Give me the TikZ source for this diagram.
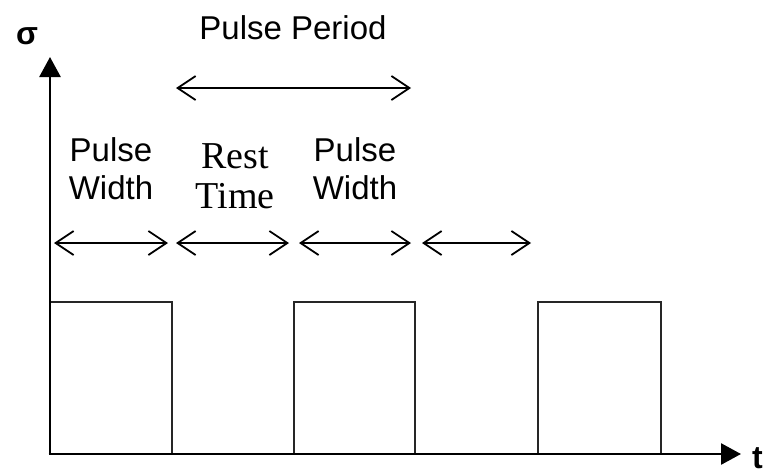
\documentclass[tikz,border=0pt]{standalone}
\usepackage{fontspec}
\setmainfont{Liberation Sans}
\newfontfamily\timesfont{Liberation Serif}
\usetikzlibrary{arrows.meta}
\begin{document}
\begin{tikzpicture}[x=1pt,y=-1pt,
  axis/.style={line width=2.6pt,-{Triangle[length=20pt,width=21pt]}},
  pulse/.style={draw=black!85,line width=2pt},
  span/.style={line width=1.8pt,{Straight Barb[length=18pt,width=24pt,line width=1.8pt]}-{Straight Barb[length=18pt,width=24pt,line width=1.8pt]}},
  sanslabel/.style={inner sep=0pt,align=center,font=\fontsize{33}{38}\selectfont},
  seriflabel/.style={inner sep=0pt,align=center,font=\timesfont\fontsize{38}{40}\selectfont},
  axislabel/.style={inner sep=0pt,font=\bfseries\fontsize{32}{36}\selectfont}]
\useasboundingbox (0,0) rectangle (765,474);

% axes
\coordinate (origin) at (50,454);
\coordinate (ytip) at (50,57);
\coordinate (xtip) at (741,454);

% pulses
\draw[pulse] (50,302) rectangle (172,454);
\draw[pulse] (294,302) rectangle (415,454);
\draw[pulse] (538,302) rectangle (661,454);

\draw[axis] (origin) -- (ytip);
\draw[axis] ([xshift=-1.3pt]origin) -- (xtip);

\node[axislabel] (sigma) at (27,36) {σ};
\node[axislabel,anchor=base west] (tlab) at (752,468) {t};

% pulse period
\node[sanslabel,anchor=base] (period) at (293,39) {Pulse Period};
\coordinate (pa) at (176,88);
\coordinate (pb) at (411,88);
\draw[span] (pa) -- (pb);

% interval labels
\node[sanslabel,anchor=north] (pw1) at (111,137) {Pulse\\Width};
\node[seriflabel,anchor=north] (rest) at (235,143) {Rest\\Time};
\node[sanslabel,anchor=north] (pw2) at (355,137) {Pulse\\Width};

% interval spans
\coordinate (s0) at (54,243);
\coordinate (s1) at (168,243);
\coordinate (s2) at (176,243);
\coordinate (s3) at (289,243);
\coordinate (s4) at (299,243);
\coordinate (s5) at (411,243);
\coordinate (s6) at (422,243);
\coordinate (s7) at (531,243);
\draw[span] (s0) -- (s1);
\draw[span] (s2) -- (s3);
\draw[span] (s4) -- (s5);
\draw[span] (s6) -- (s7);
\end{tikzpicture}
\end{document}
